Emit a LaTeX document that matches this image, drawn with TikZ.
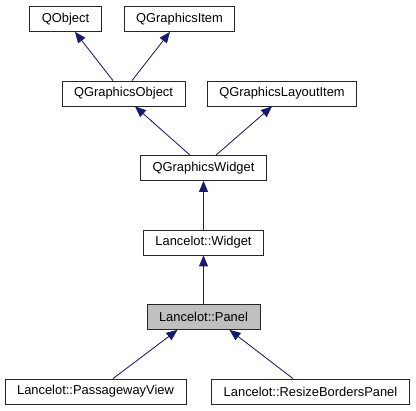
\documentclass[tikz,border=0pt]{standalone}
\usepackage{fontspec}
\setmainfont{Liberation Sans}
\usetikzlibrary{arrows.meta}
\definecolor{edgeblue}{RGB}{25,25,112}
\tikzset{
  cls/.style     = {draw=black!85, line width=0.8pt, minimum height=25pt, inner xsep=12pt, inner ysep=0pt, fill=white, font=\fontsize{12.9}{15}\selectfont},
  current/.style = {cls, fill=black!25},
  inherit/.style = {-{Triangle[length=11pt, width=9pt]}, draw=edgeblue, fill=edgeblue, line width=0.8pt}
}

\begin{document}
\begin{tikzpicture}[x=1pt, y=-1pt]
  \useasboundingbox (0,0) rectangle (416,411);

  \node[cls] (qobj)    at (65.5,19)   {QObject};
  \node[cls] (gitem)   at (179.5,19)  {QGraphicsItem};
  \node[cls] (gobj)    at (123.5,93.5) {QGraphicsObject};
  \node[cls] (glayout) at (282,93.5)  {QGraphicsLayoutItem};
  \node[cls] (gwidget) at (203.5,168) {QGraphicsWidget};
  \node[cls] (widget)  at (203.5,242.5) {Lancelot::Widget};
  \node[current] (panel) at (203.5,317) {Lancelot::Panel};
  \node[cls] (pview)   at (95.5,391.5) {Lancelot::PassagewayView};
  \node[cls] (rpanel)  at (310.5,391.5) {Lancelot::ResizeBordersPanel};

  \draw[inherit] ([xshift=-10.5pt]gobj.north) -- ([xshift=9.5pt]qobj.south);
  \draw[inherit] ([xshift=8.5pt]gobj.north) -- ([xshift=-9.5pt]gitem.south);
  \draw[inherit] ([xshift=-13.5pt]gwidget.north) -- ([xshift=11.5pt]gobj.south);
  \draw[inherit] ([xshift=12.5pt]gwidget.north) -- ([xshift=-10pt]glayout.south);
  \draw[inherit] (widget) -- (gwidget);
  \draw[inherit] (panel) -- (widget);
  \draw[inherit] ([xshift=17.5pt]pview.north) -- ([xshift=-26pt]panel.south);
  \draw[inherit] ([xshift=-17.5pt]rpanel.north) -- ([xshift=26pt]panel.south);
\end{tikzpicture}
\end{document}
